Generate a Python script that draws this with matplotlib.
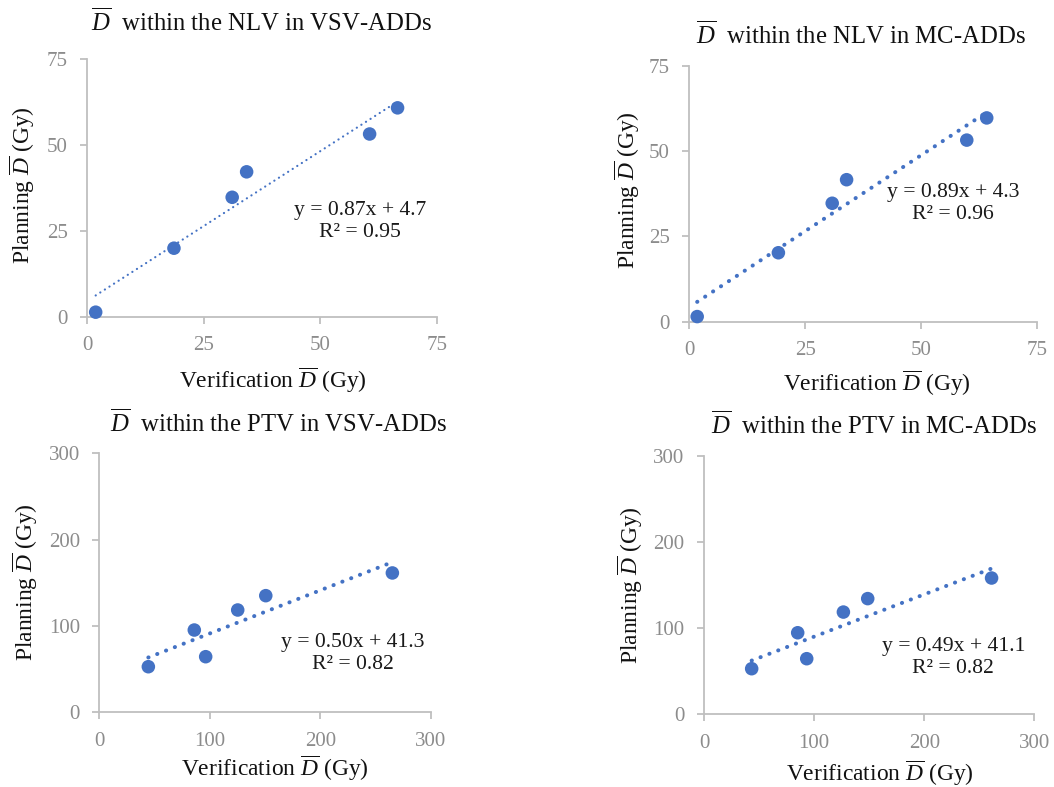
import matplotlib
matplotlib.use("Agg")
import matplotlib.pyplot as plt
import numpy as np

plt.rcParams["font.family"] = ["Liberation Serif", "DejaVu Serif"]
plt.rcParams["mathtext.fontset"] = "custom"
plt.rcParams["mathtext.rm"] = "Liberation Serif"
plt.rcParams["mathtext.it"] = "Liberation Serif:italic"

# Mean dose (Gy): verification vs planning
nlv_vsv_verif = [1.8, 18.6, 31.1, 34.2, 60.6, 66.6]
nlv_vsv_plan = [1.4, 20.0, 34.8, 42.2, 53.2, 60.8]
nlv_mc_verif = [1.7, 19.2, 30.8, 33.9, 59.8, 64.1]
nlv_mc_plan = [1.5, 20.2, 34.7, 41.6, 53.2, 59.7]
ptv_vsv_verif = [44.4, 86.0, 96.3, 125.3, 150.7, 265.3]
ptv_vsv_plan = [52.8, 95.3, 64.4, 118.5, 135.1, 161.4]
ptv_mc_verif = [43.3, 85.1, 93.3, 126.6, 148.7, 261.2]
ptv_mc_plan = [52.9, 94.6, 64.5, 118.6, 134.2, 158.1]

# Linear trend lines (slope, intercept, R^2)
fit_nlv_vsv = (0.87, 4.7, 0.95)
fit_nlv_mc = (0.89, 4.3, 0.96)
fit_ptv_vsv = (0.50, 41.3, 0.82)
fit_ptv_mc = (0.49, 41.1, 0.82)

nlv_ticks = [0, 25, 50, 75]
ptv_ticks = [0, 100, 200, 300]

titles = [
    r"$\overline{D}$  within the NLV in VSV-ADDs",
    r"$\overline{D}$  within the NLV in MC-ADDs",
    r"$\overline{D}$  within the PTV in VSV-ADDs",
    r"$\overline{D}$  within the PTV in MC-ADDs",
]
xlabel = r"Verification $\overline{D}$ (Gy)"
ylabel = r"Planning $\overline{D}$ (Gy)"

W, H = 1054, 787
fig = plt.figure(figsize=(W / 100, H / 100), dpi=100)

BLUE = "#4472C4"
SPINE = "#BFBFBF"
TICKTXT = "#8C8C8C"


def px_rect(l, r, t, b):
    return [l / W, (H - b) / H, (r - l) / W, (b - t) / H]


panels = [
    dict(rect=(87.3, 436.7, 59, 317), x=nlv_vsv_verif, y=nlv_vsv_plan, fit=fit_nlv_vsv,
         ticks=nlv_ticks, title=titles[0], tpos=(262, 22), ylpos=(22, 185), xlpos=(273, 380),
         ann=(0.78, 0.37), lw=1.6, gap=2.4),
    dict(rect=(689.3, 1037.3, 65.7, 321.7), x=nlv_mc_verif, y=nlv_mc_plan, fit=fit_nlv_mc,
         ticks=nlv_ticks, title=titles[1], tpos=(861, 35), ylpos=(627, 190), xlpos=(877, 383),
         ann=(0.758, 0.4625), lw=2.9, gap=2.3),
    dict(rect=(99.3, 430.7, 453.3, 712.3), x=ptv_vsv_verif, y=ptv_vsv_plan, fit=fit_ptv_vsv,
         ticks=ptv_ticks, title=titles[2], tpos=(278, 423), ylpos=(25, 582), xlpos=(275, 768),
         ann=(0.766, 0.228), lw=2.9, gap=2.3),
    dict(rect=(704, 1034.3, 455.7, 714.3), x=ptv_mc_verif, y=ptv_mc_plan, fit=fit_ptv_mc,
         ticks=ptv_ticks, title=titles[3], tpos=(874, 425), ylpos=(630, 585), xlpos=(880, 773),
         ann=(0.755, 0.22), lw=2.9, gap=2.3),
]

for p in panels:
    ax = fig.add_axes(px_rect(*p["rect"]))
    ticks = p["ticks"]
    ax.set_xlim(ticks[0], ticks[-1])
    ax.set_ylim(ticks[0], ticks[-1])
    ax.set_xticks(ticks)
    ax.set_yticks(ticks)
    for s in ("top", "right"):
        ax.spines[s].set_visible(False)
    for s in ("left", "bottom"):
        ax.spines[s].set_color(SPINE)
        ax.spines[s].set_linewidth(1.3)
    ax.tick_params(direction="out", length=5, width=1.3, color=SPINE,
                   labelsize=15, labelcolor=TICKTXT, pad=9)

    slope, icpt, r2 = p["fit"]
    xs = np.array([min(p["x"]), max(p["x"])])
    ax.plot(xs, slope * xs + icpt, color=BLUE, lw=p["lw"],
            linestyle=(0, (0.05, p["gap"])), dash_capstyle="round", zorder=2)
    ax.scatter(p["x"], p["y"], s=95, color=BLUE, edgecolors="none", zorder=3,
               clip_on=False)

    ax.text(p["ann"][0], p["ann"][1],
            f"y = {slope:.2f}x + {icpt:.1f}\nR² = {r2:.2f}",
            transform=ax.transAxes, ha="center", va="center", multialignment="center",
            fontsize=15.6, color="#1a1a1a", linespacing=1.2)

    fig.text(p["tpos"][0] / W, 1 - p["tpos"][1] / H, p["title"], ha="center", va="center",
             fontsize=17.8, color="#111111")
    fig.text(p["xlpos"][0] / W, 1 - p["xlpos"][1] / H, xlabel, ha="center", va="center",
             fontsize=16.9, color="#111111")
    fig.text(p["ylpos"][0] / W, 1 - p["ylpos"][1] / H, ylabel, ha="center", va="center",
             fontsize=16.9, color="#111111", rotation=90)

fig.savefig("out.png", dpi=100, facecolor="white")
